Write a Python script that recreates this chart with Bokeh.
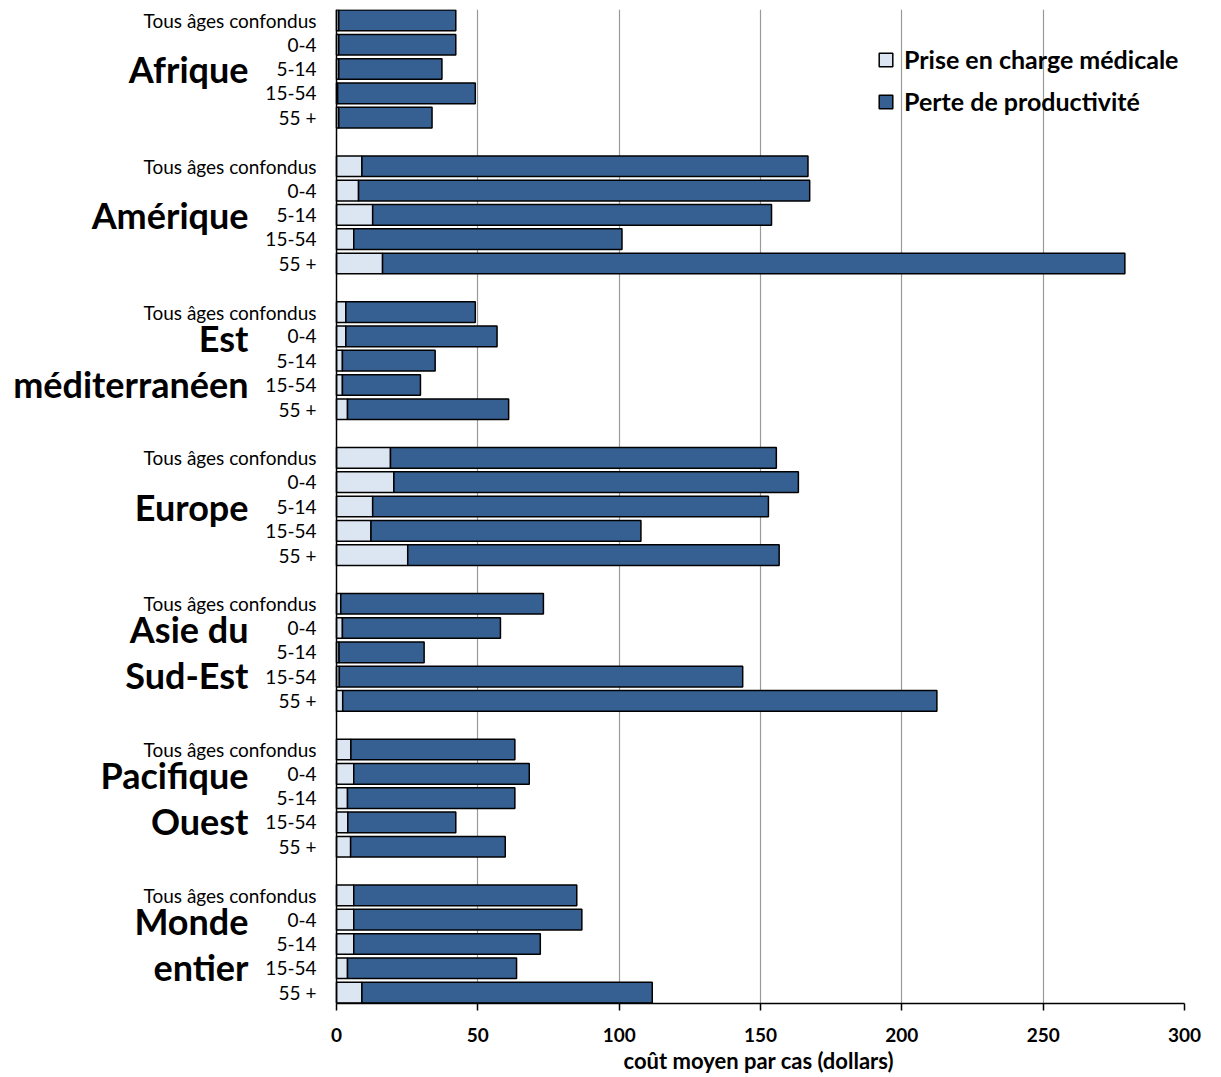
from bokeh.plotting import figure
from bokeh.models import (ColumnDataSource, Range1d, FixedTicker, Span, Legend,
                          LegendItem, Title)
from bokeh.core.properties import value
from bokeh.embed import file_html
from bokeh.resources import INLINE

# --- data -----------------------------------------------------------------
region_lines = [
    ["Afrique"],
    ["Amérique"],
    ["Est", "méditerranéen"],
    ["Europe"],
    ["Asie du", "Sud-Est"],
    ["Pacifique", "Ouest"],
    ["Monde", "entier"],
]
age_groups = ["Tous âges confondus", "0-4", "5-14", "15-54", "55 +"]

# average cost per case (dollars), medical care part
prise_en_charge = [
    0.8, 0.8, 0.8, 0.4, 0.8,        # Afrique
    9.0, 7.8, 12.8, 6.1, 16.3,      # Amérique
    3.3, 3.3, 2.1, 2.1, 3.9,        # Est méditerranéen
    19.1, 20.3, 12.8, 12.2, 25.2,   # Europe
    1.5, 2.1, 0.9, 1.0, 2.2,        # Asie du Sud-Est
    5.1, 6.1, 3.9, 4.0, 5.0,        # Pacifique Ouest
    6.1, 6.1, 6.1, 3.9, 9.0,        # Monde entier
]
# average cost per case (dollars), productivity loss part
perte_productivite = [
    41.4, 41.4, 36.5, 48.7, 33.0,
    157.8, 159.6, 141.1, 94.9, 262.6,
    45.8, 53.5, 32.8, 27.6, 57.0,
    136.5, 143.1, 140.0, 95.5, 131.4,
    71.7, 55.9, 30.1, 142.7, 210.2,
    58.0, 62.1, 59.2, 38.2, 54.7,
    78.9, 80.7, 66.0, 59.8, 102.7,
]
x_ticks = [0, 50, 100, 150, 200, 250, 300]
x_max = 300
x_title = "coût moyen par cas (dollars)"

# --- layout of the category slots (5 bars + 1 empty slot per region) -------
n_ages = len(age_groups)
slot = n_ages + 1
ys, ages = [], []
for g in range(len(region_lines)):
    for a, age in enumerate(age_groups):
        ys.append(g * slot + a)
        ages.append(age)
n_slots = len(region_lines) * slot - 1

# region names, two-line names split around the middle of the group
reg_y, reg_text = [], []
for g, lines in enumerate(region_lines):
    center = g * slot + (n_ages - 1) / 2
    shifts = [0.0] if len(lines) == 1 else [-0.95, 0.95]
    for txt, s in zip(lines, shifts):
        reg_y.append(center + s)
        reg_text.append(txt)

src = ColumnDataSource(dict(y=ys, med=prise_en_charge, prod=perte_productivite,
                            age=ages))
reg_src = ColumnDataSource(dict(y=reg_y, text=reg_text))

FONT = "Lato"
LIGHT = "#dce6f2"
DARK = "#376092"

# the frame spans the whole width; the label column lives at negative x
W, H = 1221, 1077
frame_right = 1184
axis_px = 336
x_min = -x_max * axis_px / (frame_right - axis_px)

p = figure(width=W, height=H, output_backend="svg", toolbar_location=None,
           x_range=Range1d(x_min, x_max),
           y_range=Range1d(n_slots - 1 + 0.45, -0.45),
           min_border_left=0, min_border_right=W - frame_right,
           min_border_top=9, min_border_bottom=74)
p.outline_line_color = None
p.background_fill_color = "white"
p.yaxis.visible = False

renderers = p.hbar_stack(["med", "prod"], y="y", height=0.85, source=src,
                         fill_color=[LIGHT, DARK], line_color="black",
                         line_width=1.5)

# grid
p.ygrid.visible = False
p.xgrid.ticker = FixedTicker(ticks=x_ticks[1:])
p.xgrid.grid_line_color = "#9a9a9a"
p.xgrid.grid_line_width = 1.2

# vertical category axis line at zero
p.add_layout(Span(location=0, dimension="height", line_color="black",
                  line_width=1.5))

# x axis
xa = p.xaxis[0]
xa.bounds = (0, x_max)
xa.ticker = FixedTicker(ticks=x_ticks)
xa.axis_line_color = "black"
xa.axis_line_width = 1.5
xa.major_tick_out = 7
xa.major_tick_in = 0
xa.major_tick_line_color = "black"
xa.major_tick_line_width = 1.5
xa.minor_tick_line_color = None
xa.major_label_text_font = FONT
xa.major_label_text_font_style = "bold"
xa.major_label_text_font_size = "19px"
xa.major_label_text_color = "black"
xa.major_label_standoff = 17

# x axis title, centred under the value scale
p.add_layout(Title(text=x_title, align="left", offset=623, standoff=0,
                   text_font=FONT, text_font_style="bold",
                   text_font_size="22px", text_color="black"), "below")

# age-group labels
p.text(x=0, y="y", text="age", source=src, x_offset=-20,
       text_align="right", text_baseline="middle",
       text_font=value(FONT), text_font_size="19px", text_color="black")

# region names
p.text(x=0, y="y", text="text", source=reg_src, x_offset=-88,
       text_align="right", text_baseline="middle",
       text_font=value(FONT), text_font_style="bold",
       text_font_size="36px", text_color="black")

legend = Legend(items=[
    LegendItem(label="Prise en charge médicale", renderers=[renderers[0]]),
    LegendItem(label="Perte de productivité", renderers=[renderers[1]]),
], location=(877, 887))
legend.background_fill_alpha = 0
legend.border_line_alpha = 0
legend.margin = 0
legend.padding = 0
legend.spacing = 12
legend.glyph_width = 17
legend.glyph_height = 17
legend.label_height = 20
legend.label_standoff = 10
legend.label_text_font = FONT
legend.label_text_font_style = "bold"
legend.label_text_font_size = "25px"
legend.label_text_color = "black"
legend.label_text_baseline = "middle"
p.add_layout(legend)

open("out.html", "w").write(file_html(p, INLINE))
